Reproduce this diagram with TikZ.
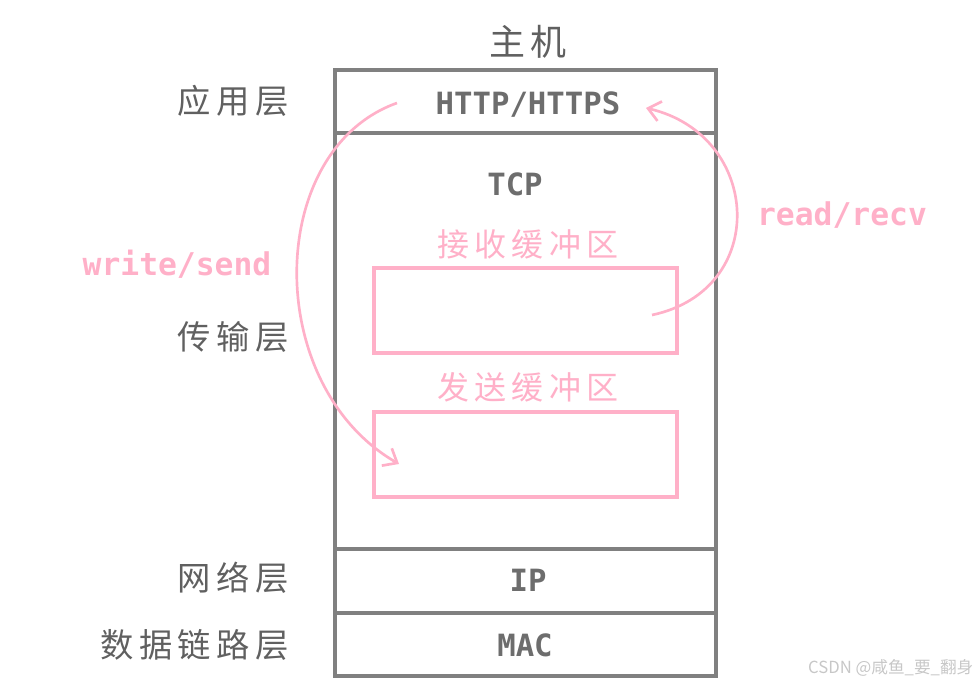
\documentclass[tikz,border=0pt]{standalone}
\usepackage{fontspec}
\setmainfont{DejaVu Sans Mono}
\newfontfamily\kai[LetterSpace=16]{Noto Sans CJK SC}
\newfontfamily\wmfont{Noto Sans CJK SC}
\usetikzlibrary{arrows.meta}
\definecolor{linegray}{RGB}{128,128,128}
\definecolor{txtgray}{RGB}{96,96,96}
\definecolor{softpink}{RGB}{255,176,200}
\tikzset{
  layer/.style={font=\kai\fontsize{25}{30}\selectfont, text=txtgray, anchor=east, inner sep=0pt},
  proto/.style={font=\bfseries\fontsize{23}{27}\selectfont, text=linegray!85!black, inner sep=0pt},
  buflabel/.style={font=\kai\fontsize{24}{28}\selectfont, text=softpink, inner sep=0pt},
  calllabel/.style={font=\bfseries\fontsize{23.5}{27}\selectfont, text=softpink, inner sep=0pt},
  callarrow/.style={draw=softpink, line width=2pt, -{Straight Barb[length=9pt,width=15pt,line width=2pt]}}
}
\begin{document}
\begin{tikzpicture}[x=0.75pt, y=-0.75pt, line width=2.5pt]
  \useasboundingbox (0,0) rectangle (979,688);
  \def\lx{335}\def\rx{716}
  \def\bl{374}\def\br{677}
  % host stack
  \draw[linegray] (\lx,70) rectangle (\rx,676);
  \draw[linegray] (\lx,133) -- (\rx,133);
  \draw[linegray] (\lx,549) -- (\rx,549);
  \draw[linegray] (\lx,613) -- (\rx,613);
  % buffers
  \draw[softpink] (\bl,268) rectangle (\br,353);
  \draw[softpink] (\bl,412) rectangle (\br,497);
  \node[font=\kai\fontsize{27}{30}\selectfont, text=txtgray, inner sep=0pt] (host) at (528,42) {主机};
  \node[layer] (app) at (290,101) {应用层};
  \node[layer] (trans) at (290,337) {传输层};
  \node[layer] (net) at (290,578) {网络层};
  \node[layer] (link) at (290,645) {数据链路层};
  \node[proto] (http) at (528,105) {HTTP/HTTPS};
  \node[proto] (tcp) at (515,184) {TCP};
  \node[proto] (ip) at (528,580) {IP};
  \node[proto] (mac) at (525,645) {MAC};
  \node[buflabel] (recvbuf) at (528,244) {接收缓冲区};
  \node[buflabel] (sendbuf) at (528,387) {发送缓冲区};
  \node[calllabel] (write) at (177,264) {write/send};
  \node[calllabel] (read) at (842,215) {read/recv};
  % system calls
  \coordinate (wfrom) at (397,103);
  \coordinate (wto) at (399,464);
  \coordinate (rfrom) at (652,315);
  \coordinate (rto) at (646,108);
  \draw[callarrow] (wfrom) .. controls (265,150) and (262,385) .. (wto);
  \draw[callarrow] (rfrom) .. controls (770,290) and (762,135) .. (rto);
  \node[font=\wmfont\fontsize{12.5}{14}\selectfont, text=black!22, anchor=east, inner sep=0pt] (mark) at (975,668) {CSDN @咸鱼\_要\_翻身};
\end{tikzpicture}
\end{document}
